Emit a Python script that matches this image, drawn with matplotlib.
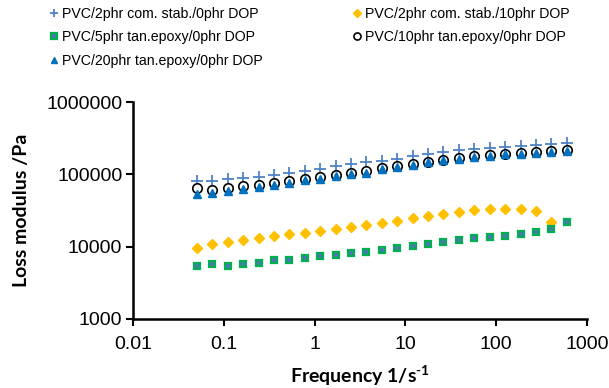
import matplotlib
matplotlib.use("Agg")
import matplotlib.pyplot as plt

plt.rcParams['font.family'] = ['Liberation Sans', 'DejaVu Sans']
plt.rcParams['mathtext.fontset'] = 'custom'
plt.rcParams['mathtext.rm'] = 'Lato:bold'
plt.rcParams['mathtext.bf'] = 'Lato:bold'

# frequency (1/s)
freq = [0.0501, 0.0741, 0.1096, 0.162, 0.240, 0.355, 0.525, 0.776, 1.148,
        1.698, 2.512, 3.715, 5.495, 8.128, 12.02, 17.78, 26.30, 38.9, 57.5,
        85.1, 125.9, 186.2, 275.4, 407.4, 602.6]

# loss modulus (Pa)
com_0dop = [80000, 80700, 85300, 88900, 92900, 99100, 105700, 112500, 120000,
            129000, 137700, 148300, 155000, 165200, 177800, 189700, 202300,
            215400, 227500, 235000, 239500, 247300, 253000, 261000, 272300]
com_10dop = [9470, 10900, 11730, 12500, 13200, 13900, 14830, 15640, 16680,
             17620, 18790, 19900, 21340, 22970, 24730, 26370, 28100, 29940,
             31620, 32660, 33400, 32660, 31330, 22240]
tan5 = [5330, 5680, 5450, 5750, 5990, 6540, 6450, 6880, 7330, 7670, 8070,
        8530, 9080, 9680, 10320, 11010, 11730, 12390, 13040, 13770, 14220,
        15000, 15810, 17780, 21740]
tan10 = [65300, 61300, 65300, 68800, 71900, 75700, 80700, 87100, 92900, 99100,
         105700, 112500, 121200, 130300, 139000, 150000, 160000, 168300,
         177800, 187800, 193900, 197800, 202300, 210900, 215400]
tan20 = [53900, 55700, 58700, 63300, 66700, 70300, 75700, 82500, 87100, 94600,
         100000, 105700, 117300, 126200, 134600, 146800, 156400, 165200,
         173800, 181900, 189700, 193900, 197800, 204200, 210900]

labels = ['PVC/2phr com. stab./0phr DOP', 'PVC/2phr com. stab./10phr DOP',
          'PVC/5phr tan.epoxy/0phr DOP', 'PVC/10phr tan.epoxy/0phr DOP',
          'PVC/20phr tan.epoxy/0phr DOP']
xticks = [0.01, 0.1, 1, 10, 100, 1000]
xticklabels = ['0.01', '0.1', '1', '10', '100', '1000']
yticks = [1000, 10000, 100000, 1000000]
yticklabels = ['1000', '10000', '100000', '1000000']

fig = plt.figure(figsize=(6.09, 3.88), dpi=100)
ax = fig.add_axes([0.219, 0.178, 0.7445, 0.559])

p_plus, = ax.plot(freq, com_0dop, ls='none', marker='+', ms=8.5, mew=1.3,
                  color='#4F81C7', label=labels[0])
p_dia, = ax.plot(freq[:len(com_10dop)], com_10dop, ls='none', marker='D', ms=5,
                 color='#FFC000', mec='#FFC000', label=labels[1])
p_sq, = ax.plot(freq, tan5, ls='none', marker='s', ms=5, mfc='#4F75B8',
                mec='#00B050', mew=1.6, label=labels[2])
p_circ, = ax.plot(freq, tan10, ls='none', marker='o', ms=6.8, mfc='white',
                  mec='black', mew=1.2, label=labels[3])
p_tri, = ax.plot(freq, tan20, ls='none', marker='^', ms=6, color='#0070C0',
                 label=labels[4])

ax.set_xscale('log')
ax.set_yscale('log')
ax.set_xlim(0.01, 1000)
ax.set_ylim(1000, 1000000)
ax.set_xticks(xticks, labels=xticklabels)
ax.set_yticks(yticks, labels=yticklabels)
ax.minorticks_off()
ax.tick_params(labelsize=14, direction='out', length=5, width=1.5)
ax.tick_params(axis='x', pad=7)
ax.tick_params(axis='y', pad=3)

for side in ['top', 'right']:
    ax.spines[side].set_visible(False)
for side in ['left', 'bottom']:
    ax.spines[side].set_linewidth(1.8)

ax.set_xlabel(r'Frequency 1/s$^{\text{-1}}$', fontsize=14, fontweight='bold', family='Lato')
ax.set_ylabel('Loss modulus /Pa', fontsize=14, fontweight='bold', family='Lato')
ax.xaxis.set_label_coords(0.5, -0.205)
ax.yaxis.set_label_coords(-0.228, 0.5)

handles = [p_plus, p_sq, p_tri, p_dia, p_circ]
fig.legend(handles, [h.get_label() for h in handles], loc='upper left',
           bbox_to_anchor=(0.079, 0.982), ncol=2, frameon=False, fontsize=10.2,
           handlelength=0.8, handletextpad=0.2, columnspacing=6.2,
           labelspacing=0.66, borderpad=0, borderaxespad=0, markerscale=0.75,
           numpoints=1)

fig.savefig('out.png', dpi=100)
